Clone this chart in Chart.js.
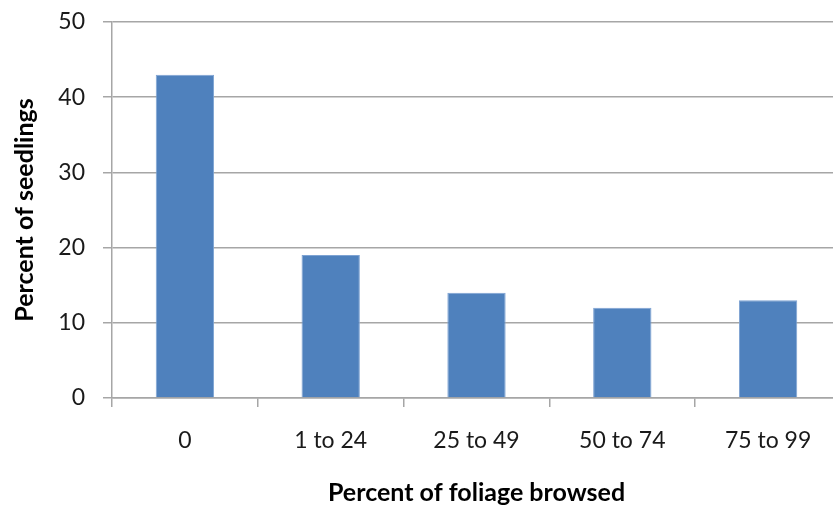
<!DOCTYPE html>
<html>
<head>
<meta charset="utf-8">
<script src="https://cdn.jsdelivr.net/npm/chart.js@4.4.1/dist/chart.umd.min.js"></script>
<style>
  html, body { margin: 0; padding: 0; background: #ffffff; overflow: hidden; }
  #wrap { width: 833px; height: 508px; position: relative; overflow: hidden; }
  #c { display: block; }
</style>
</head>
<body>
<div id="wrap"><canvas id="c" width="841" height="508"></canvas></div>
<script>
const categories = ['0', '1 to 24', '25 to 49', '50 to 74', '75 to 99'];
const seedlingPercent = [43, 19, 14, 12, 13];
const yTicks = [0, 10, 20, 30, 40, 50];

const FONT = "'Lato', 'Open Sans', sans-serif";
const GRID = '#a6a6a6';

new Chart(document.getElementById('c'), {
  type: 'bar',
  data: {
    labels: categories,
    datasets: [{
      data: seedlingPercent,
      backgroundColor: '#4f81bd',
      borderColor: '#7ea3d3',
      borderWidth: 1,
      categoryPercentage: 0.4,
      barPercentage: 1.0
    }]
  },
  options: {
    responsive: false,
    animation: false,
    devicePixelRatio: 1,
    layout: { padding: { top: 22, right: 0, left: 0, bottom: 0 } },
    plugins: { legend: { display: false }, tooltip: { enabled: false } },
    scales: {
      x: {
        grid: {
          offset: true,
          drawOnChartArea: false,
          drawTicks: true,
          tickLength: 9,
          color: GRID,
          lineWidth: 1.5
        },
        border: { display: true, color: GRID, width: 1.5 },
        ticks: {
          color: '#1a1a1a',
          font: { family: FONT, size: 23 },
          padding: 20,
          maxRotation: 0
        },
        title: {
          display: true,
          text: 'Percent of foliage browsed',
          color: '#000000',
          font: { family: FONT, size: 25, weight: 'bold', lineHeight: 1.2 },
          padding: { top: 0, bottom: 0 }
        },
        afterFit(scale) {
          scale.height = 110;
          scale.paddingLeft = 0;
          scale.paddingRight = 0;
        }
      },
      y: {
        min: 0,
        max: 50,
        afterBuildTicks(scale) { scale.ticks = yTicks.map(v => ({ value: v })); },
        grid: {
          color: GRID,
          lineWidth: 1.5,
          drawTicks: true,
          tickLength: 9
        },
        border: { display: true, color: GRID, width: 1.5 },
        ticks: {
          color: '#1a1a1a',
          font: { family: FONT, size: 23 },
          padding: 18
        },
        title: {
          display: true,
          text: 'Percent of seedlings',
          color: '#000000',
          font: { family: FONT, size: 25, weight: 'bold', lineHeight: 1.2 },
          padding: { top: 10, bottom: 0 }
        },
        afterFit(scale) {
          scale.width = 112;
          scale.paddingTop = 0;
          scale.paddingBottom = 0;
        }
      }
    }
  }
});
</script>
</body>
</html>
